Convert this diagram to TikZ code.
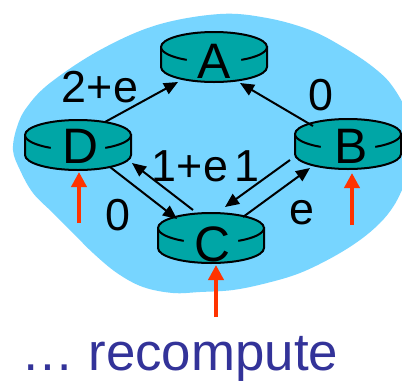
\documentclass[tikz,border=0pt]{standalone}
\usepackage{fontspec}
\setmainfont{Liberation Sans}
\usetikzlibrary{arrows.meta,calc}
\definecolor{cloudblue}{RGB}{119,213,255}
\definecolor{routerteal}{RGB}{0,166,166}
\definecolor{redarr}{RGB}{255,51,0}
\definecolor{txtblue}{RGB}{51,51,153}
\tikzset{
  routerletter/.style={font=\fontsize{50}{50}\selectfont, inner sep=0pt, anchor=base},
  cost/.style={font=\fontsize{45}{45}\selectfont, inner sep=0pt, anchor=base},
  link/.style={black, line width=2bp, -{Triangle[length=14bp,width=12bp]}},
  update/.style={redarr, line width=4.5bp, -{Triangle[length=15bp,width=15bp]}},
  pics/router/.style={code={
    \filldraw[fill=routerteal,draw=black,line width=2bp] (-53,0) -- (-53,20)
      arc[start angle=180,end angle=0,x radius=53,y radius=15] -- (53,0) -- cycle;
    \fill[routerteal] (0,0) ellipse[x radius=53,y radius=15];
    \draw[line width=2bp] (53,0) arc[start angle=0,end angle=-180,x radius=53,y radius=15];
    \draw[line width=2bp] (-53,0) arc[start angle=180,end angle=121,x radius=53,y radius=15];
    \draw[line width=2bp] (53,0) arc[start angle=0,end angle=59,x radius=53,y radius=15];
  }}
}
\begin{document}
\begin{tikzpicture}[x=1bp,y=-1bp]
\useasboundingbox (0,0) rectangle (402,382);
\fill[white] (0,0) rectangle (402,382);
\clip (0,0) rectangle (402,382);
% cloud
\fill[cloudblue] plot[smooth cycle, tension=0.6] coordinates {
 (220,14) (267,18) (310,30) (343,47) (373,67) (393,87) (410,120) (415,160)
 (402,190) (393,207) (380,223) (360,240) (333,257) (300,273) (267,283)
 (233,290) (200,292) (173,293) (143,287) (117,273) (93,253) (73,233)
 (53,213) (33,193) (20,170) (13,150) (17,127) (27,107) (50,83) (100,50) (157,25)};
% routers
\coordinate (rA) at (214,47);
\coordinate (rD) at (78,135);
\coordinate (rB) at (348,134);
\coordinate (rC) at (211,228);
\pic at (rA) {router};
\pic at (rD) {router};
\pic at (rB) {router};
\pic at (rC) {router};
\node[routerletter] (A) at ($(rA)+(0,31)$) {A};
\node[routerletter] (D) at ($(rD)+(2,28)$) {D};
\node[routerletter] (B) at ($(rB)+(3,29)$) {B};
\node[routerletter] (C) at ($(rC)+(1,33)$) {C};
% links
\draw[link] ($(rD)+(27,-13)$) -- ($(rA)+(-36,35)$);
\draw[link] ($(rB)+(-35,-8)$) -- ($(rA)+(26,36)$);
\draw[link] ($(rD)+(32,32)$) -- ($(rC)+(-34,-9)$);
\draw[link] ($(rC)+(-18,-18)$) -- ($(rD)+(54,28)$);
\draw[link] ($(rB)+(-58,26)$) -- ($(rC)+(14,-21)$);
\draw[link] ($(rC)+(32,-11)$) -- ($(rB)+(-38,34)$);
% costs
\node[cost] (cDA) at (100,102) {2+e};
\node[cost] (cBA) at (321,110) {0};
\node[cost] (cCD) at (190,181) {1+e};
\node[cost] (cBC) at (247,181) {1};
\node[cost] (cDC) at (118,230) {0};
\node[cost] (cCB) at (302,224) {e};
% red update arrows
\coordinate (tD) at (79,223);
\coordinate (tB) at (352,225);
\coordinate (tC) at (216,317);
\draw[update] (tD) -- ($(rD)+(1,37)$);
\draw[update] (tB) -- ($(rB)+(4,39)$);
\draw[update] (tC) -- ($(rC)+(5,37)$);
% caption
\node[anchor=base west, inner sep=0pt, font=\fontsize{53}{53}\selectfont, text=txtblue] (caption) at (21,370.5) {… recompute};
\end{tikzpicture}
\end{document}
